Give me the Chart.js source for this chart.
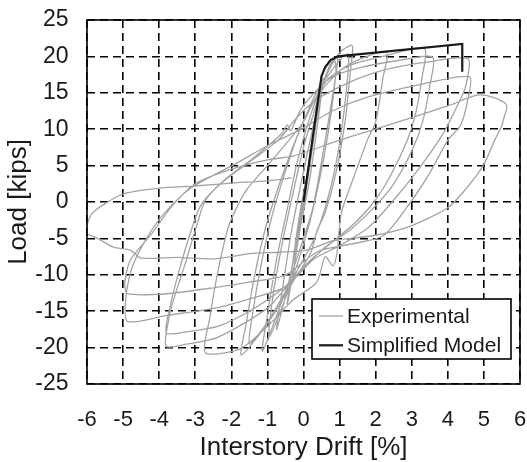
<!DOCTYPE html>
<html>
<head>
<meta charset="utf-8">
<script src="https://cdn.jsdelivr.net/npm/chart.js@4.4.0/dist/chart.umd.min.js"></script>
<style>
  html, body { margin: 0; padding: 0; background: #fff; }
  #wrap { width: 527px; height: 462px; }
</style>
</head>
<body>
<div id="wrap"><canvas id="chart" width="527" height="462"></canvas></div>
<script>
// axis ticks
const xTickValues = [-6, -5, -4, -3, -2, -1, 0, 1, 2, 3, 4, 5, 6];
const yTickValues = [-25, -20, -15, -10, -5, 0, 5, 10, 15, 20, 25];

// experimental hysteresis, [drift %, load kips]
const elasticCycles = [
  [0,0],[0.12,4],[0.2,7],[0.08,2],[-0.1,-3],[-0.22,-7],[-0.08,-2],[0.1,3],[0.3,10],[0.4,13.5],
  [0.28,8.5],[0.05,1],[-0.25,-8.5],[-0.45,-14],[-0.32,-9],[-0.1,-1.5],[0.15,5],[0.4,12.5],[0.55,17],
  [0.45,13],[0.2,4],[-0.15,-5],[-0.5,-13],[-0.75,-17.5],[-0.6,-12.5],[-0.35,-4.5],[-0.05,3],[0.25,10]
];
const cycle1 = [
  [0.5,15.5],[0.75,19],[0.95,20],[0.85,16],[0.55,7],[0.25,-1],[-0.2,-8],[-0.7,-15],[-1.14,-20.5],
  [-1.0,-15.5],[-0.75,-8],[-0.45,-1],[-0.15,6],[0.2,12],[0.55,16.5],[0.85,19.5],[0.9,18],[0.7,10],
  [0.4,2],[0.05,-5],[-0.45,-12.5],[-0.95,-18.5],[-0.85,-13],[-0.6,-6],[-0.3,1],[0,7.5],[0.3,12.5]
];
const cycle2 = [
  [0.6,17],[1.0,20.5],[1.35,21.5],[1.3,18],[1.15,11],[0.9,4],[0.6,-1.5],[0.37,-4],[0.2,-7],
  [-0.3,-11],[-0.9,-16],[-1.72,-21],[-1.6,-17],[-1.35,-10],[-1.05,-3.5],[-0.7,2],[-0.3,7.5],[0,11],
  [0.3,14.5],[0.7,17.5],[1.1,20],[1.25,20.3],[1.2,16],[1.0,8],[0.7,1],[0.3,-5],[-0.3,-10.5],
  [-1.0,-16.5],[-1.5,-19.5],[-1.4,-15],[-1.15,-8],[-0.85,-1.5],[-0.45,5],[-0.1,10],[0.25,13.5]
];
const cycle3 = [
  [0.7,16.5],[1.3,19],[2.3,20.6],[2.2,17],[2.0,11],[1.77,8.5],[1.4,3.5],[1.05,-1.5],[0.93,-6.9],
  [0.82,-8.8],[0.6,-7.5],[0.37,-11],[-0.3,-13.5],[-0.88,-16.5],[-1.73,-20.1],[-2.72,-20.7],
  [-2.6,-16],[-2.35,-9],[-2.05,-3],[-1.6,1.5],[-1.0,5],[-0.4,8.5],[0,11],[0.3,14],[0.7,17],
  [1.3,18.8],[2.2,20],[3.35,21.1]
];
const cycle4 = [
  [3.28,17],[3.1,12],[2.88,8.5],[2.4,3.5],[1.95,0],[1.4,-3],[0.8,-5.5],[0.3,-7.5],[-0.2,-10],
  [-0.98,-14.5],[-2.38,-18.6],[-3.2,-19.5],[-3.81,-19.8],[-3.7,-15.3],[-3.55,-12.6],[-3.28,-8.5],
  [-3.0,-3.9],[-2.72,0.2],[-2.2,3],[-1.4,6],[-0.6,9.4],[-0.45,10.6],[-0.35,9.8],[-0.1,12.5],
  [0.3,15],[0.8,17.2],[1.6,18.5],[2.6,19.4],[3.58,19.9]
];
const cycle5 = [
  [3.5,16],[3.3,11],[3.0,7],[2.5,2.5],[2.0,-0.5],[1.3,-3.8],[0.6,-6.2],[0.1,-8.5],[-0.6,-12],
  [-1.5,-15],[-2.38,-17.1],[-3.2,-17.8],[-3.8,-18],[-3.68,-14],[-3.45,-9.5],[-3.15,-4.5],
  [-2.85,-0.5],[-2.3,2.5],[-1.5,5.5],[-0.7,8.5],[-0.2,11.5],[0.1,13],[0.46,14.4],[1.3,16.5],
  [2.22,18.1],[3.4,19.2],[4.56,19.7]
];
const cycle6 = [
  [4.5,16],[4.33,13.9],[3.87,9.4],[3.23,4.8],[2.49,0.2],[1.8,-3.5],[1.0,-6.0],[0.3,-7.8],
  [-0.52,-11.7],[-1.5,-13.3],[-2.38,-14.5],[-3.82,-15.6],[-4.88,-16.4],[-4.92,-13],[-4.75,-9],
  [-4.35,-5],[-3.85,-1.5],[-3.1,2],[-1.9,5.2],[-0.9,8],[-0.1,9.9],[0.8,12.5],[1.77,14.4],
  [3.2,16.1],[4.6,17.2]
];
const cycle7 = [
  [4.55,14],[4.35,10.5],[4.0,8.5],[3.5,4],[2.97,0],[2.22,-4.6],[1.3,-5.8],[0.4,-6.8],
  [-0.52,-10.1],[-1.5,-11],[-2.38,-11.7],[-3.78,-12.6],[-4.88,-12.6],[-4.95,-11],[-4.8,-8],
  [-4.2,-4.3],[-3.65,-0.6],[-3.0,2.5],[-2,4.5],[-1,5.8],[-0.29,6.3],[1,8.5],[2.5,10.8],[4,13.2],
  [4.84,14.7],[5.3,14.3],[5.63,13.3]
];
const cycle8 = [
  [5.55,11.5],[5.49,10.4],[5.3,8.5],[4.98,5.0],[4.5,1.8],[4.0,-0.8],[2.97,-3.3],[1.95,-4.6],
  [0.83,-5.3],[0.09,-6.6],[-0.7,-6.9],[-1.48,-7.1],[-2.45,-7.8],[-3.5,-7.6],[-4.5,-7.7],
  [-4.8,-6.6],[-5.27,-6.2],[-5.7,-5.0],[-6,-4.3],[-6,-3.2],[-5.83,-1.4],[-5,1.1],[-4,1.9],
  [-3.03,2.2],[-2,2.6],[-1,2.9],[-0.33,3.3]
];

// simplified backbone
const modelDrift = [0, 0.5, 0.6, 0.75, 0.95, 4.4, 4.4];
const modelLoad = [0, 17.3, 18.5, 19.5, 20, 21.7, 17.9];

const experimental = [].concat(elasticCycles, cycle1, cycle2, cycle3, cycle4, cycle5, cycle6, cycle7, cycle8)
  .map(p => ({x: p[0], y: p[1]}));
const model = modelDrift.map((d, i) => ({x: d, y: modelLoad[i]}));

const FONT = '"Liberation Sans", Arial, Helvetica, sans-serif';
const TEXT = '#1a1a1a';

// no extra room for half labels, the layout padding decides the plot box
function noScalePadding(s) {
  s.paddingTop = 0; s.paddingBottom = 0; s.paddingLeft = 0; s.paddingRight = 0;
}

// frame round the plot + boxed legend in the lower right corner
const frameAndLegend = {
  id: 'frameAndLegend',
  afterDatasetsDraw(chart) {
    const {ctx, chartArea: a} = chart;
    ctx.save();
    ctx.strokeStyle = '#000';
    ctx.lineWidth = 1.6;
    ctx.strokeRect(a.left, a.top, a.right - a.left, a.bottom - a.top);

    const bx = a.right - 208, by = a.bottom - 85, bw = 199, bh = 60;
    ctx.fillStyle = '#fff';
    ctx.fillRect(bx, by, bw, bh);
    ctx.strokeRect(bx, by, bw, bh);
    ctx.font = '21px ' + FONT;
    ctx.textBaseline = 'middle';
    chart.data.datasets.forEach((ds, i) => {
      const y = by + 17 + i * 29.3;
      ctx.strokeStyle = ds.borderColor;
      ctx.lineWidth = ds.borderWidth;
      ctx.beginPath();
      ctx.moveTo(bx + 7, y);
      ctx.lineTo(bx + 31, y);
      ctx.stroke();
      ctx.fillStyle = TEXT;
      ctx.fillText(ds.label, bx + 35, y + 1);
    });
    ctx.restore();
  }
};

new Chart(document.getElementById('chart').getContext('2d'), {
  type: 'scatter',
  data: {
    datasets: [{
      label: 'Experimental',
      data: experimental,
      showLine: true,
      borderColor: '#a3a3a3',
      borderWidth: 1.3,
      pointRadius: 0,
      tension: 0.25,
      order: 1
    }, {
      label: 'Simplified Model',
      data: model,
      showLine: true,
      borderColor: '#1a1a1a',
      borderWidth: 2.2,
      pointRadius: 0,
      tension: 0,
      order: 0
    }]
  },
  options: {
    responsive: false,
    animation: false,
    devicePixelRatio: 1,
    layout: { padding: { top: 20, right: 7, left: 0, bottom: 0 } },
    plugins: { legend: { display: false }, tooltip: { enabled: false } },
    scales: {
      x: {
        type: 'linear',
        min: -6, max: 6,
        afterBuildTicks: s => { s.ticks = xTickValues.map(v => ({value: v})); },
        afterFit: s => { s.height = 78; noScalePadding(s); },
        grid: { color: '#000', lineWidth: 1.6, drawTicks: false },
        border: { display: false, dash: [8, 5] },
        ticks: { autoSkip: false, maxRotation: 0, padding: 23, color: TEXT, font: { family: FONT, size: 22 } },
        title: { display: true, text: 'Interstory Drift [%]', color: TEXT,
                 font: { family: FONT, size: 26, lineHeight: 1 }, padding: { top: 0, bottom: 1 } }
      },
      y: {
        type: 'linear',
        min: -25, max: 25,
        afterBuildTicks: s => { s.ticks = yTickValues.map(v => ({value: v})); },
        afterFit: s => { s.width = 87; noScalePadding(s); },
        grid: { color: '#000', lineWidth: 1.6, drawTicks: false },
        border: { display: false, dash: [8, 5] },
        ticks: { autoSkip: false, padding: 18.5, color: TEXT, font: { family: FONT, size: 23 } },
        title: { display: true, text: 'Load [kips]', color: TEXT,
                 font: { family: FONT, size: 26, lineHeight: 1 }, padding: { top: 6, bottom: 0 } }
      }
    }
  },
  plugins: [frameAndLegend]
});
</script>
</body>
</html>
